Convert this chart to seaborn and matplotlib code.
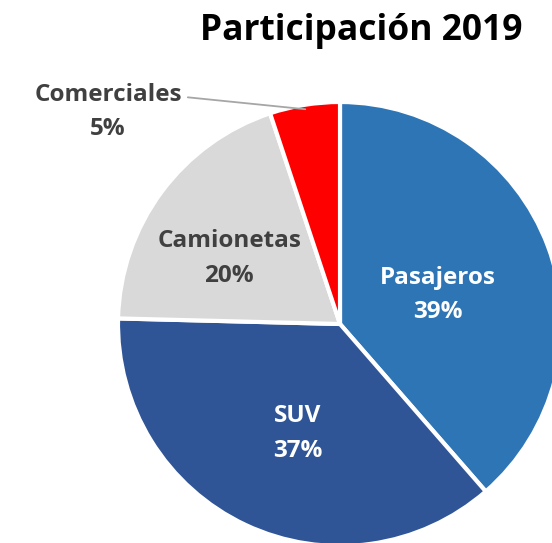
import numpy as np
import matplotlib
matplotlib.use("Agg")
import matplotlib.pyplot as plt
import seaborn as sns

# data
categorias = ["Pasajeros", "SUV", "Camionetas", "Comerciales"]
participacion = [38.6, 36.8, 19.5, 5.1]
etiquetas_pct = ["39%", "37%", "20%", "5%"]
colores = ["#2E75B6", "#2F5597", "#D9D9D9", "#FF0000"]

sns.set_style("white")
plt.rcParams["font.family"] = ["Open Sans", "DejaVu Sans"]

fig = plt.figure(figsize=(5.52, 5.43), dpi=100)
ax = fig.add_axes([0, 0, 1, 1])

wedges, _ = ax.pie(participacion, colors=colores, startangle=90, counterclock=False,
                   radius=1, center=(0, 0),
                   wedgeprops=dict(edgecolor="white", linewidth=3))

# pie centre sits at (340, 324) px, radius 222 px, part of it is cut off
ax.set_xlim(-340 / 222, (552 - 340) / 222)
ax.set_ylim(-(543 - 324) / 222, 324 / 222)
ax.set_aspect("auto")
ax.axis("off")

fs = 17.5
# label placement: (radial fraction, angle tweak in degrees)
pos = [(0.46, -4), (0.53, 4), (0.58, 6)]
txt_col = ["white", "white", "#404040"]
for w, cat, pct, (r, da), c in zip(wedges[:3], categorias, etiquetas_pct, pos, txt_col):
    ang = np.deg2rad((w.theta1 + w.theta2) / 2 + da)
    ax.text(r * np.cos(ang), r * np.sin(ang), f"{cat}\n{pct}", ha="center", va="center",
            color=c, fontsize=fs, fontweight="bold", linespacing=1.6)

# Comerciales: label outside with leader line
w = wedges[3]
ang = np.deg2rad((w.theta1 + w.theta2) / 2)
tip = (0.98 * np.cos(ang), 0.98 * np.sin(ang))
ax.annotate(f"{categorias[3]}\n{etiquetas_pct[3]}", xy=tip, xytext=(-1.045, 0.955),
            ha="center", va="center", color="#404040", fontsize=fs, fontweight="bold",
            linespacing=1.6,
            arrowprops=dict(arrowstyle="-", color="#A6A6A6", lw=1.3,
                            relpos=(1.0, 0.76), shrinkA=2, shrinkB=0))

fig.text(0.654, 0.943, "Participación 2019", ha="center", va="center",
         fontsize=25.5, fontweight="bold", color="black")

fig.savefig("out.png", dpi=100)
